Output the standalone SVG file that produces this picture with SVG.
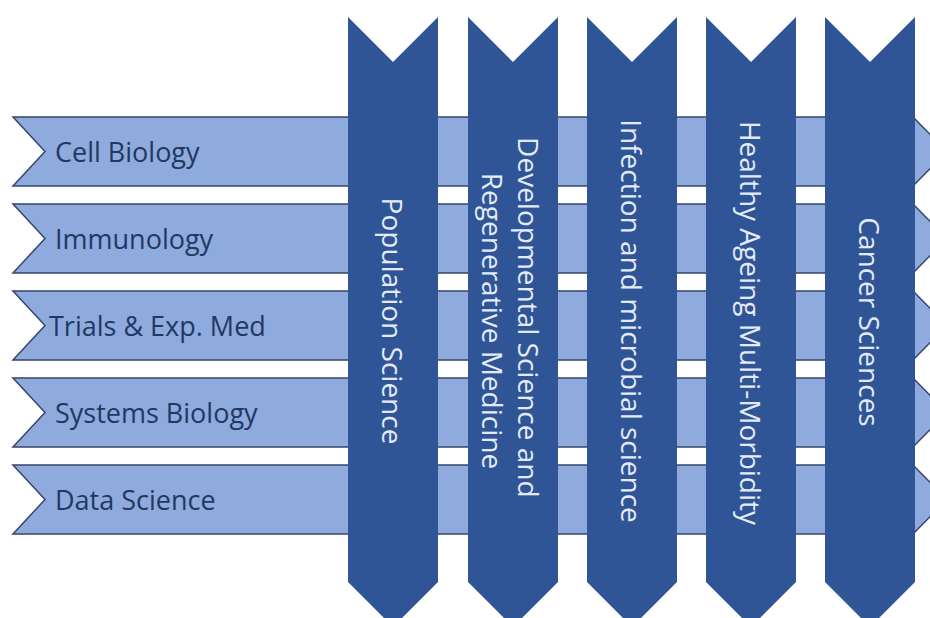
<svg xmlns="http://www.w3.org/2000/svg" width="930" height="618" viewBox="0 0 930 618">
  <defs>
    <style>
      .band { fill: #8FAADC; stroke: #34466B; stroke-width: 1.5; stroke-linejoin: miter; }
      .band-label { font-family: "Open Sans", "Liberation Sans", sans-serif; font-size: 27px; fill: #1F3864; }
      .pillar { fill: #2F5597; }
      .pillar-label { font-family: "Open Sans", "Liberation Sans", sans-serif; font-size: 28px; fill: #E4EBF7; text-anchor: middle; }
    </style>
    <!-- horizontal chevron: notched left end, pointed right end (tip runs off the canvas) -->
    <path id="band-shape" d="M13,0 L913,0 L947,34.5 L913,69 L13,69 L45,34.5 Z"/>
    <!-- vertical chevron: notched top, pointed bottom -->
    <path id="pillar-shape" d="M0,0 L45,45 L90,0 L90,565 L45,610 L0,565 Z"/>
  </defs>
  <rect width="930" height="618" fill="#FFFFFF"/>

  <!-- horizontal themes -->
  <g id="band-cell-biology" transform="translate(0,117)">
    <use href="#band-shape" class="band"/>
    <text class="band-label" x="55" y="45">Cell Biology</text>
  </g>
  <g id="band-immunology" transform="translate(0,204)">
    <use href="#band-shape" class="band"/>
    <text class="band-label" x="55" y="45">Immunology</text>
  </g>
  <g id="band-trials" transform="translate(0,291)">
    <use href="#band-shape" class="band"/>
    <text class="band-label" x="49" y="45">Trials &amp; Exp. Med</text>
  </g>
  <g id="band-systems-biology" transform="translate(0,378)">
    <use href="#band-shape" class="band"/>
    <text class="band-label" x="55" y="45">Systems Biology</text>
  </g>
  <g id="band-data-science" transform="translate(0,465)">
    <use href="#band-shape" class="band"/>
    <text class="band-label" x="55" y="45">Data Science</text>
  </g>

  <!-- vertical programmes, drawn over the bands -->
  <g id="pillar-population" transform="translate(348,17)">
    <use href="#pillar-shape" class="pillar"/>
    <text class="pillar-label" transform="translate(45,304) rotate(90)" y="11">Population Science</text>
  </g>
  <g id="pillar-developmental" transform="translate(468,17)">
    <use href="#pillar-shape" class="pillar"/>
    <text class="pillar-label" transform="translate(45,304) rotate(90)">
      <tspan x="0" y="-5">Developmental Science and</tspan>
      <tspan x="0" y="31">Regenerative Medicine</tspan>
    </text>
  </g>
  <g id="pillar-infection" transform="translate(587,17)">
    <use href="#pillar-shape" class="pillar"/>
    <text class="pillar-label" transform="translate(45,304) rotate(90)" y="11">Infection and microbial science</text>
  </g>
  <g id="pillar-healthy-ageing" transform="translate(706,17)">
    <use href="#pillar-shape" class="pillar"/>
    <text class="pillar-label" transform="translate(45,306) rotate(90)" y="11">Healthy Ageing Multi-Morbidity</text>
  </g>
  <g id="pillar-cancer" transform="translate(825,17)">
    <use href="#pillar-shape" class="pillar"/>
    <text class="pillar-label" transform="translate(45,305) rotate(90)" y="11">Cancer Sciences</text>
  </g>

  <g id="connectors"/>
</svg>
